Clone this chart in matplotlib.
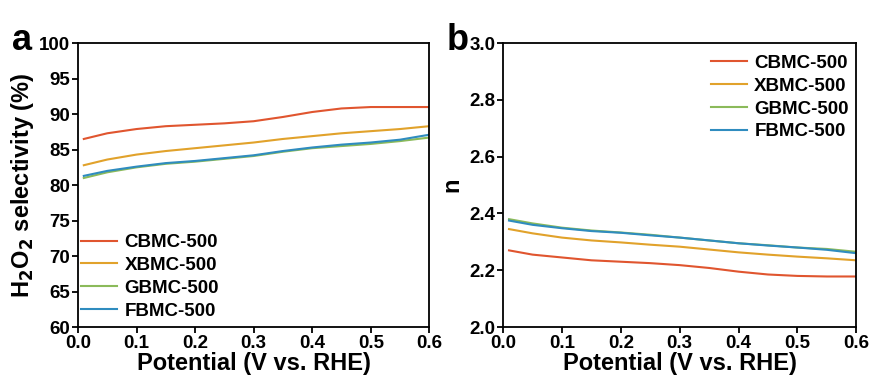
import numpy as np
import matplotlib
matplotlib.use("Agg")
import matplotlib.pyplot as plt

plt.rcParams['font.family'] = ['Liberation Sans', 'DejaVu Sans']
plt.rcParams['font.weight'] = 'bold'

# potential (V vs. RHE)
potential = [0.01, 0.05, 0.10, 0.15, 0.20, 0.25, 0.30, 0.35, 0.40, 0.45, 0.50, 0.55, 0.60]

# panel a: H2O2 selectivity (%)
sel_cbmc = [86.5, 87.3, 87.9, 88.3, 88.5, 88.7, 89.0, 89.6, 90.3, 90.8, 91.0, 91.0, 91.0]
sel_xbmc = [82.8, 83.6, 84.3, 84.8, 85.2, 85.6, 86.0, 86.5, 86.9, 87.3, 87.6, 87.9, 88.3]
sel_gbmc = [81.0, 81.8, 82.5, 83.0, 83.3, 83.7, 84.1, 84.7, 85.2, 85.5, 85.8, 86.2, 86.7]
sel_fbmc = [81.3, 82.0, 82.6, 83.1, 83.4, 83.8, 84.2, 84.8, 85.3, 85.7, 86.0, 86.4, 87.1]

# panel b: electron transfer number n
n_cbmc = [2.270, 2.255, 2.245, 2.235, 2.230, 2.225, 2.218, 2.208, 2.195, 2.185, 2.180, 2.178, 2.178]
n_xbmc = [2.345, 2.330, 2.315, 2.305, 2.298, 2.290, 2.283, 2.273, 2.263, 2.255, 2.248, 2.242, 2.235]
n_gbmc = [2.380, 2.365, 2.350, 2.340, 2.333, 2.325, 2.315, 2.305, 2.295, 2.288, 2.280, 2.275, 2.265]
n_fbmc = [2.375, 2.360, 2.348, 2.338, 2.332, 2.323, 2.315, 2.305, 2.295, 2.287, 2.280, 2.272, 2.260]

labels = ["CBMC-500", "XBMC-500", "GBMC-500", "FBMC-500"]
colors = ["#E0552F", "#E1A22B", "#8BBA5A", "#2F8CBF"]

fig = plt.figure(figsize=(8.72, 3.81), dpi=100)
ax1 = fig.add_axes([0.0894, 0.1417, 0.403, 0.745])
ax2 = fig.add_axes([0.577, 0.1417, 0.405, 0.745])

for ys, lab, c in zip([sel_cbmc, sel_xbmc, sel_gbmc, sel_fbmc], labels, colors):
    ax1.plot(potential, ys, color=c, lw=1.5, label=lab)
for ys, lab, c in zip([n_cbmc, n_xbmc, n_gbmc, n_fbmc], labels, colors):
    ax2.plot(potential, ys, color=c, lw=1.5, label=lab)

ax1.set_xlim(0, 0.6)
ax1.set_ylim(60, 100)
ax1.set_yticks(np.arange(60, 101, 5))
ax1.set_ylabel("H$_\\mathbf{2}$O$_\\mathbf{2}$ selectivity (%)", fontsize=17, fontweight='bold', labelpad=2)

ax2.set_xlim(0, 0.6)
ax2.set_ylim(2.0, 3.0)
ax2.set_yticks(np.arange(2.0, 3.01, 0.2))
ax2.set_ylabel("n", fontsize=17, fontweight='bold', labelpad=4)

for ax in (ax1, ax2):
    ax.set_xticks(np.arange(0, 0.61, 0.1))
    ax.set_xticklabels([f"{v:.1f}" for v in np.arange(0, 0.61, 0.1)])
    ax.set_xlabel("Potential (V vs. RHE)", fontsize=17, fontweight='bold', labelpad=0)
    ax.tick_params(axis='both', direction='out', length=4, width=1.3, labelsize=13.5, pad=1.5)
    for s in ax.spines.values():
        s.set_linewidth(1.3)

ax2.yaxis.set_major_formatter(matplotlib.ticker.FormatStrFormatter('%.1f'))

ax1.legend(loc='lower left', frameon=False, fontsize=13.5, handlelength=1.9, handletextpad=0.4,
           labelspacing=0.3, borderaxespad=0.0, bbox_to_anchor=(-0.012, 0.0))
ax2.legend(loc='upper right', frameon=False, fontsize=13.5, handlelength=1.9, handletextpad=0.4,
           labelspacing=0.3, borderaxespad=0.0, bbox_to_anchor=(1.0, 0.985))

fig.text(0.014, 0.87, "a", fontsize=26, fontweight='bold')
fig.text(0.512, 0.87, "b", fontsize=26, fontweight='bold')

fig.savefig("out.png", dpi=100)
